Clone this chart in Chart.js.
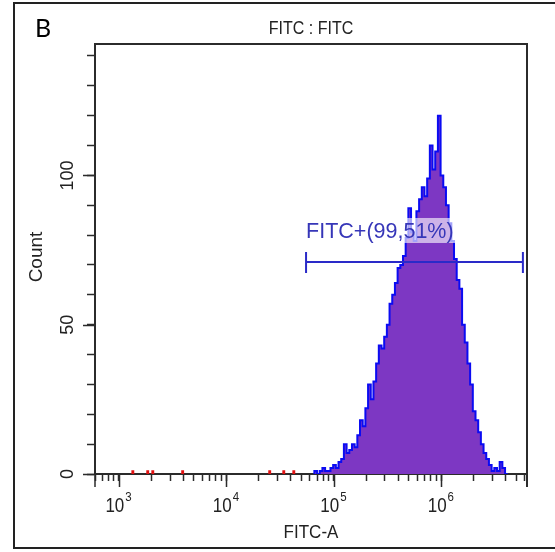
<!DOCTYPE html>
<html><head><meta charset="utf-8">
<script src="https://cdn.jsdelivr.net/npm/chart.js@4/dist/chart.umd.min.js"></script>
<style>html,body{margin:0;padding:0;background:#fff;}#wrap{width:555px;height:552px;position:relative;}</style>
</head><body><div id="wrap"><canvas id="c" width="555" height="552"></canvas></div>
<script>
// FITC-A bin starts (channel values) and event counts
const fitcBins = [66069, 69984, 74131, 78524, 83176, 88105, 93325, 98855, 104713, 110917, 117490, 124451, 131826, 139637, 147911, 156675, 165959, 175792, 186209, 197242, 208930, 221309, 234423, 248313, 263027, 278612, 295121, 312608, 331131, 350752, 371535, 393550, 416869, 441570, 467735, 495450, 524807, 555904, 588844, 623735, 660693, 699842, 741310, 785236, 831764, 881049, 933254, 988553, 1047129, 1109175, 1174898, 1244515, 1318257, 1396368, 1479108, 1566751, 1659587, 1757924, 1862087, 1972423, 2089296, 2213095, 2344229, 2483133, 2630268, 2786121, 2951209, 3126079, 3311311, 3507519, 3715352, 3935501];
const fitcBinEnd = 4168694;
const counts = [1, 0, 1, 2, 1, 1, 2, 3, 2, 4, 5, 10, 7, 8, 10, 9, 13, 18, 16, 22, 30, 25, 31, 37, 43, 42, 46, 50, 57, 60, 64, 69, 70, 73, 79, 89, 81, 78, 88, 92, 96, 93, 99, 110, 102, 108, 120, 100, 96, 90, 84, 78, 72, 65, 62, 50, 44, 37, 30, 21, 18, 14, 10, 7, 5, 3, 1, 2, 1, 4, 2, 0];
// scattered low events (red)
const redEvents = [1330, 1830, 2040, 3870, 25000, 33800, 41900];
const redCounts = [1, 1, 1, 1, 1, 1, 1];
// axes
const xMin = 600, xMax = 6300000;
const xMajorTicks = [1e3, 1e4, 1e5, 1e6];
const xMajorExp = ['3', '4', '5', '6'];
const xMinorTicks = [600, 700, 800, 900, 2e3, 3e3, 4e3, 5e3, 6e3, 7e3, 8e3, 9e3, 2e4, 3e4, 4e4, 5e4, 6e4, 7e4, 8e4, 9e4, 2e5, 3e5, 4e5, 5e5, 6e5, 7e5, 8e5, 9e5, 2e6, 3e6, 4e6, 5e6, 6e6];
const yMax = 144;
const yTicks = [0, 10, 20, 30, 40, 50, 60, 70, 80, 90, 100, 110, 120, 130, 140];
const yLabels = [0, 50, 100];
// gate
const gateRange = [55300, 5770000];
const gateLevel = 71;
const gateLabel = 'FITC+(99,51%)';
const titleText = 'FITC : FITC';
const xTitle = 'FITC-A';
const yTitle = 'Count';
const panelLetter = 'B';

const histData = [{x: fitcBins[0], y: 0}]
  .concat(fitcBins.map((b, i) => ({x: b, y: counts[i]})))
  .concat([{x: fitcBinEnd, y: 0}]);
const redData = [];
redEvents.forEach((v, i) => {
  redData.push({x: v, y: 0}, {x: v, y: redCounts[i]}, {x: v * 1.03, y: 0}, {x: v * 1.03, y: null});
});

const AX = '#2b2b2b';
const SANS = '"Liberation Sans", Arial, sans-serif';

// horizontal text drawn with a slight vertical stretch like the source image
function stretchedText(ctx, txt, px, py, size, sy, align) {
  ctx.save();
  ctx.translate(px, py);
  ctx.scale(1, sy);
  ctx.font = size + 'px ' + SANS;
  ctx.textAlign = align || 'center';
  ctx.textBaseline = 'alphabetic';
  ctx.fillText(txt, 0, 0);
  ctx.restore();
}

const decor = {
  id: 'decor',
  beforeDraw(chart) {
    const ctx = chart.ctx;
    ctx.save(); ctx.fillStyle = '#fff'; ctx.fillRect(0, 0, chart.width, chart.height); ctx.restore();
  },
  afterDatasetsDraw(chart) {
    const {ctx, scales: {x, y}} = chart;
    const x1 = x.getPixelForValue(gateRange[0]);
    const x2 = x.getPixelForValue(gateRange[1]);
    const gy = y.getPixelForValue(gateLevel);
    ctx.save();
    ctx.font = '21.5px ' + SANS;
    const w = ctx.measureText(gateLabel).width;
    ctx.fillStyle = 'rgba(255,255,255,0.62)';
    ctx.fillRect(x1 - 3, gy - 44, w + 7, 25);
    ctx.fillStyle = '#3636b8';
    ctx.textBaseline = 'alphabetic';
    ctx.textAlign = 'left';
    ctx.fillText(gateLabel, x1, gy - 24);
    ctx.strokeStyle = '#2a2ac8';
    ctx.lineWidth = 2;
    ctx.beginPath();
    ctx.moveTo(x1, gy); ctx.lineTo(x2, gy);
    ctx.moveTo(x1, gy - 10); ctx.lineTo(x1, gy + 11);
    ctx.moveTo(x2, gy - 10); ctx.lineTo(x2, gy + 11);
    ctx.stroke();
    ctx.restore();
  },
  afterDraw(chart) {
    const {ctx, chartArea: a, scales: {x, y}} = chart;
    ctx.save();
    // plot frame top/right
    ctx.strokeStyle = AX; ctx.lineWidth = 2;
    ctx.beginPath();
    ctx.moveTo(a.left, a.top); ctx.lineTo(a.right, a.top); ctx.lineTo(a.right, a.bottom + 13);
    ctx.stroke();
    // major ticks
    ctx.lineWidth = 1.5;
    ctx.beginPath();
    xMajorTicks.forEach(v => { const px = Math.round(x.getPixelForValue(v)) + 0.5; ctx.moveTo(px, a.bottom); ctx.lineTo(px, a.bottom + 13); });
    ctx.moveTo(a.left, a.bottom); ctx.lineTo(a.left, a.bottom + 13);
    yLabels.forEach(v => { const py = Math.round(y.getPixelForValue(v)) + 0.5; ctx.moveTo(a.left, py); ctx.lineTo(a.left - 12, py); });
    ctx.stroke();
    // x labels 10^n
    ctx.fillStyle = '#222';
    xMajorTicks.forEach((v, i) => {
      const px = x.getPixelForValue(v);
      ctx.font = '17px ' + SANS;
      const w1 = ctx.measureText('10').width;
      const start = px - 4 - w1 / 2;
      stretchedText(ctx, '10', start, 512, 17, 1.15, 'left');
      stretchedText(ctx, xMajorExp[i], start + w1 + 1, 501, 11.5, 1.15, 'left');
    });
    // y labels rotated
    ctx.font = '18px ' + SANS;
    ctx.textAlign = 'center'; ctx.textBaseline = 'middle';
    yLabels.forEach(v => {
      const py = y.getPixelForValue(v);
      ctx.save(); ctx.translate(68, py); ctx.rotate(-Math.PI / 2); ctx.fillText(String(v), 0, 0); ctx.restore();
    });
    ctx.font = '19px ' + SANS;
    ctx.save(); ctx.translate(37, 257); ctx.rotate(-Math.PI / 2); ctx.fillText(yTitle, 0, 0); ctx.restore();
    // axis title + chart title
    stretchedText(ctx, xTitle, (a.left + a.right) / 2, 538, 17, 1.12);
    stretchedText(ctx, titleText, (a.left + a.right) / 2, 34, 16, 1.12);
    // panel letter
    ctx.font = '25px Lato, "Open Sans", sans-serif';
    ctx.textAlign = 'left'; ctx.textBaseline = 'alphabetic';
    ctx.fillStyle = '#000';
    ctx.fillText(panelLetter, 35, 37);
    // outer border
    ctx.strokeStyle = '#222'; ctx.lineWidth = 2;
    ctx.strokeRect(14, 3, 560, 545);
    ctx.restore();
  }
};

new Chart(document.getElementById('c'), {
  type: 'line',
  data: {
    datasets: [
      {data: histData, stepped: 'before', fill: 'origin', backgroundColor: '#7d37c3', borderColor: '#0b0bf2', borderWidth: 2, pointRadius: 0, tension: 0},
      {data: redData, stepped: 'before', fill: false, borderColor: '#e01010', borderWidth: 1.5, pointRadius: 0, spanGaps: false}
    ]
  },
  options: {
    responsive: false, animation: false, devicePixelRatio: 1,
    layout: {padding: {left: 0, right: 28, top: 44, bottom: 0}},
    plugins: {legend: {display: false}, tooltip: {enabled: false}, title: {display: false}},
    scales: {
      x: {
        type: 'logarithmic', min: xMin, max: xMax,
        afterBuildTicks: s => { s.ticks = xMinorTicks.concat(xMajorTicks).sort((a, b) => a - b).map(v => ({value: v})); },
        afterFit: s => { s.height = 78; },
        ticks: {display: false},
        grid: {display: true, drawOnChartArea: false, drawTicks: true, tickLength: 7, tickColor: AX, tickWidth: 1.5},
        border: {display: true, color: AX, width: 2}
      },
      y: {
        type: 'linear', min: 0, max: yMax,
        afterBuildTicks: s => { s.ticks = yTicks.map(v => ({value: v})); },
        afterFit: s => { s.width = 95; },
        ticks: {display: false},
        grid: {display: true, drawOnChartArea: false, drawTicks: true, tickLength: 8, tickColor: AX, tickWidth: 1.5},
        border: {display: true, color: AX, width: 2}
      }
    }
  },
  plugins: [decor]
});
</script>
</body></html>
